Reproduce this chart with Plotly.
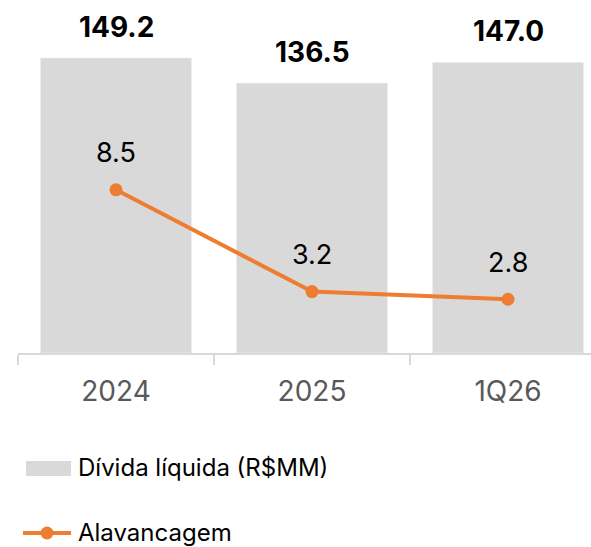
import plotly.graph_objects as go

categories = ["2024", "2025", "1Q26"]
divida = [149.2, 136.5, 147.0]
alavancagem = [8.5, 3.2, 2.8]
divida_labels = ["149.2", "136.5", "147.0"]
alav_labels = ["8.5", "3.2", "2.8"]
legend_names = ["Dívida líquida (R$MM)", "Alavancagem"]

BAR_COLOR = "#d9d9d9"
LINE_COLOR = "#ed7d31"
FONT = "Inter"

W, H = 591, 547
ML, MR, MT, MB = 18, 0, 0, 194
PW = W - ML - MR
PH = H - MT - MB
CAT_PX = 196.0

fig = go.Figure()
fig.add_trace(go.Bar(x=categories, y=divida, marker_color=BAR_COLOR, width=0.77,
                     name=legend_names[0], showlegend=False, yaxis="y"))
fig.add_trace(go.Scatter(x=categories, y=alavancagem, mode="lines+markers",
                         line=dict(color=LINE_COLOR, width=4),
                         marker=dict(color=LINE_COLOR, size=13),
                         name=legend_names[1], showlegend=False, yaxis="y2"))

annotations = []
for i, (v, t) in enumerate(zip(divida, divida_labels)):
    annotations.append(dict(x=i, y=v, xref="x", yref="y", text=t, showarrow=False,
                            yshift=31, font=dict(family=FONT, size=28, color="#000000", weight="bold")))
for i, (v, t) in enumerate(zip(alavancagem, alav_labels)):
    annotations.append(dict(x=i, y=v, xref="x", yref="y2", text=t, showarrow=False,
                            yshift=37, font=dict(family=FONT, size=27, color="#000000")))

def px_x(px):
    return (px - ML) / PW

def px_y(py):
    return (MT + PH - py) / PH

shapes = [
    dict(type="rect", xref="paper", yref="paper", x0=px_x(26), x1=px_x(71),
         y0=px_y(476), y1=px_y(461), fillcolor=BAR_COLOR, line=dict(width=0)),
    dict(type="line", xref="paper", yref="paper", x0=px_x(23), x1=px_x(71),
         y0=px_y(533), y1=px_y(533), line=dict(color=LINE_COLOR, width=4)),
    dict(type="circle", xref="paper", yref="paper", xsizemode="pixel", ysizemode="pixel",
         xanchor=px_x(47), yanchor=px_y(533), x0=-6.5, x1=6.5, y0=-6.5, y1=6.5,
         fillcolor=LINE_COLOR, line=dict(width=0)),
]
annotations.append(dict(x=px_x(76), y=px_y(468), xref="paper", yref="paper", text=legend_names[0],
                        showarrow=False, xanchor="left", yanchor="middle",
                        font=dict(family=FONT, size=24, color="#000000")))
annotations.append(dict(x=px_x(76), y=px_y(532), xref="paper", yref="paper", text=legend_names[1],
                        showarrow=False, xanchor="left", yanchor="middle",
                        font=dict(family=FONT, size=24, color="#000000")))

fig.update_layout(
    width=W, height=H,
    margin=dict(l=ML, r=MR, t=MT, b=MB, pad=0),
    plot_bgcolor="white", paper_bgcolor="white",
    showlegend=False,
    xaxis=dict(type="category", range=[-0.5, -0.5 + PW / CAT_PX],
               showline=True, linecolor="#d9d9d9", linewidth=1.5,
               ticks="outside", tickson="boundaries", ticklen=10, tickcolor="#d9d9d9", tickwidth=1.5,
               ticklabelstandoff=13,
               tickfont=dict(family=FONT, size=28, color="#595959"),
               showgrid=False, zeroline=False),
    yaxis=dict(range=[0, PH / 1.977], visible=False, showgrid=False, zeroline=False),
    yaxis2=dict(range=[0, PH / 19.2], overlaying="y", visible=False, showgrid=False, zeroline=False),
    annotations=annotations,
    shapes=shapes,
    bargap=0.23,
)

fig.write_html("out.html", config={"displayModeBar": False},
               post_script="document.body.style.margin='0px';document.body.style.overflow='hidden';")
